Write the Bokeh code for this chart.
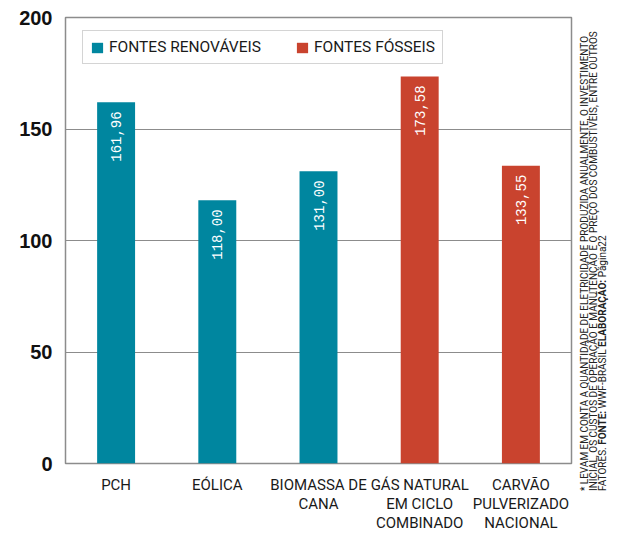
import math
from bokeh.plotting import figure
from bokeh.layouts import row
from bokeh.models import ColumnDataSource, Range1d, FactorRange, Legend, LegendItem, FixedTicker, Div
from bokeh.core.properties import value
from bokeh.embed import file_html
from bokeh.resources import INLINE

# ---- data ----
categories = ["PCH", "EÓLICA", "BIOMASSA DE\nCANA", "GÁS NATURAL\nEM CICLO\nCOMBINADO",
              "CARVÃO\nPULVERIZADO\nNACIONAL"]
values = [161.96, 118.00, 131.00, 173.58, 133.55]
value_labels = ["161,96", "118,00", "131,00", "173,58", "133,55"]
groups = ["FONTES RENOVÁVEIS", "FONTES RENOVÁVEIS", "FONTES RENOVÁVEIS", "FONTES FÓSSEIS", "FONTES FÓSSEIS"]
group_names = ["FONTES RENOVÁVEIS", "FONTES FÓSSEIS"]
y_ticks = [0, 50, 100, 150, 200]

note_line1 = "* LEVAM EM CONTA A QUANTIDADE DE ELETRICIDADE PRODUZIDA ANUALMENTE, O INVESTIMENTO"
note_line2 = "INICIAL, OS CUSTOS DE OPERAÇÃO E MANUTENÇÃO E O PREÇO DOS COMBUSTÍVEIS, ENTRE OUTROS"
note_line3_text = ["FATORES. ", "FONTE:", " WWF-BRASIL ", "ELABORAÇÃO:", " Página22"]
note_line3_bold = [False, True, False, True, False]

# ---- style ----
TEAL = "#00869F"
RED = "#C9432E"
GRID = "#8c8c8c"
SANS = "Roboto"
colors = {"FONTES RENOVÁVEIS": TEAL, "FONTES FÓSSEIS": RED}

W_MAIN, H = 574, 534

p = figure(x_range=FactorRange(*categories, range_padding=0), y_range=Range1d(0, 200),
           width=W_MAIN, height=H, output_backend="svg", toolbar_location=None,
           min_border_left=65, min_border_right=3, min_border_top=17, min_border_bottom=69)

renderers = []
for g in group_names:
    idx = [i for i, gg in enumerate(groups) if gg == g]
    src = ColumnDataSource(dict(x=[categories[i] for i in idx], top=[values[i] for i in idx],
                                lab=[value_labels[i] for i in idx]))
    r = p.vbar(x="x", top="top", width=0.375, source=src, fill_color=colors[g], line_color=None)
    renderers.append(r)
    p.text(x="x", y="top", text="lab", source=src, angle=math.pi / 2, text_align="right",
           text_baseline="middle", y_offset=9, text_color="white",
           text_font=value("Liberation Mono"), text_font_size="14px")

p.xgrid.grid_line_color = None
p.ygrid.ticker = FixedTicker(ticks=y_ticks)
p.ygrid.grid_line_color = GRID
p.ygrid.grid_line_width = 1.2
p.outline_line_color = GRID
p.outline_line_width = 1.5

p.yaxis.ticker = FixedTicker(ticks=y_ticks)
p.yaxis.axis_line_color = None
p.yaxis.major_tick_line_color = None
p.yaxis.minor_tick_line_color = None
p.yaxis.major_tick_out = 0
p.yaxis.major_tick_in = 0
p.yaxis.major_label_standoff = 13
p.yaxis.major_label_text_font = "Liberation Sans"
p.yaxis.major_label_text_font_style = "bold"
p.yaxis.major_label_text_font_size = "20px"
p.yaxis.major_label_text_color = "#111111"

p.xaxis.axis_line_color = None
p.xaxis.major_tick_line_color = None
p.xaxis.major_tick_out = 0
p.xaxis.major_tick_in = 0
p.xaxis.major_label_standoff = 12
p.xaxis.major_label_text_font = SANS
p.xaxis.major_label_text_font_size = "15px"
p.xaxis.major_label_text_line_height = 1.06
p.xaxis.major_label_text_color = "#1a1a1a"

legend = Legend(items=[LegendItem(label=g, renderers=[r]) for g, r in zip(group_names, renderers)],
                orientation="horizontal", location=(17, 399),
                glyph_width=14, glyph_height=13, label_standoff=5, spacing=34, padding=7, margin=0,
                label_height=16,
                label_text_font=SANS, label_text_font_size="15.5px", label_text_color="#1a1a1a",
                border_line_color="#aaaaaa", border_line_width=1.5, background_fill_alpha=1)
p.add_layout(legend)

# ---- side note (rotated, reads bottom to top) ----
W_NOTE = 620 - W_MAIN
line3_html = "".join(f"<b>{t}</b>" if b else t for t, b in zip(note_line3_text, note_line3_bold))
note_html = (
    f'<div style="position:relative;width:{W_NOTE}px;height:{H}px;overflow:visible;">'
    '<div style="position:absolute;left:6px;top:491px;transform-origin:0 0;'
    'transform:rotate(-90deg);white-space:nowrap;font-family:Roboto,sans-serif;'
    'font-size:10px;line-height:9px;color:#222222;">'
    f'{note_line1}<br>{note_line2}<br>{line3_html}</div></div>'
)
note = Div(text=note_html, width=W_NOTE, height=H, margin=0)

layout = row(p, note, spacing=0)
open("out.html", "w").write(file_html(layout, INLINE))
